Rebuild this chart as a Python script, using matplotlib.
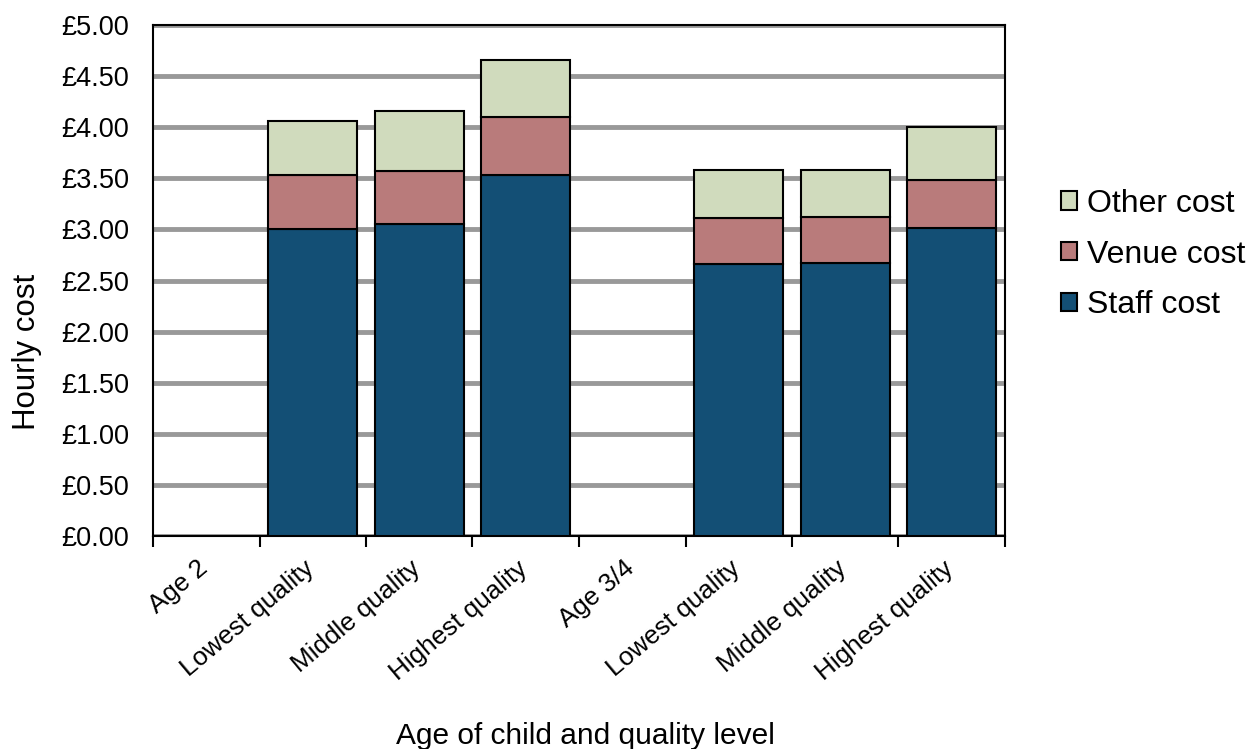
import numpy as np
import matplotlib.pyplot as plt
from matplotlib.ticker import FixedLocator, FuncFormatter
from matplotlib.transforms import ScaledTranslation

plt.rcParams['font.family'] = ['Liberation Sans', 'DejaVu Sans']

categories = ["Age 2", "Lowest quality", "Middle quality", "Highest quality",
              "Age 3/4", "Lowest quality", "Middle quality", "Highest quality"]
# Hourly cost components (GBP); header rows for each age group have no bar
staff_cost = [0, 3.00, 3.05, 3.53, 0, 2.66, 2.67, 3.01]
venue_cost = [0, 0.53, 0.52, 0.57, 0, 0.45, 0.45, 0.47]
other_cost = [0, 0.53, 0.59, 0.56, 0, 0.47, 0.46, 0.52]

staff_col = "#134f75"
venue_col = "#b97b7b"
other_col = "#d0dbbd"

fig = plt.figure(figsize=(12.5, 7.49), dpi=100)
ax = fig.add_axes([0.1224, 0.2844, 0.6816, 0.6822])

x = np.arange(len(categories))
staff = np.array(staff_cost)
venue = np.array(venue_cost)
other = np.array(other_cost)
has_bar = staff > 0

w = 0.84
kw = dict(width=w, edgecolor="black", linewidth=1.5, zorder=3)
b1 = ax.bar(x[has_bar], staff[has_bar], color=staff_col, label="Staff cost", **kw)
b2 = ax.bar(x[has_bar], venue[has_bar], bottom=staff[has_bar], color=venue_col,
            label="Venue cost", **kw)
b3 = ax.bar(x[has_bar], other[has_bar], bottom=(staff + venue)[has_bar],
            color=other_col, label="Other cost", **kw)

ax.set_xlim(-0.5, len(categories) - 0.5)
ax.set_ylim(0, 5)
ax.set_yticks(np.arange(0, 5.01, 0.5))
ax.yaxis.set_major_formatter(FuncFormatter(lambda v, p: f"£{v:.2f}"))
ax.yaxis.grid(True, color="#999999", linewidth=3.5, zorder=0)
ax.set_axisbelow(True)
ax.tick_params(axis="y", length=0, labelsize=19.5, pad=17)

# ticks sit on the category boundaries, labels on the centres
ax.xaxis.set_major_locator(FixedLocator(np.arange(-0.5, len(categories))))
ax.xaxis.set_major_formatter(FuncFormatter(lambda v, p: ""))
ax.xaxis.set_minor_locator(FixedLocator(x))
ax.set_xticklabels(categories, minor=True, rotation=40, ha="right",
                   rotation_mode="anchor", fontsize=18.8)
ax.tick_params(axis="x", which="major", length=8, width=1.5, direction="out")
ax.tick_params(axis="x", which="minor", length=0, pad=14.5)
shift = ScaledTranslation(-6.5 / 72, 0, fig.dpi_scale_trans)
for lbl in ax.get_xticklabels(minor=True):
    lbl.set_transform(lbl.get_transform() + shift)

for s in ax.spines.values():
    s.set_linewidth(1.5)
    s.set_color("black")

ax.set_ylabel("Hourly cost", fontsize=22.5)
ax.yaxis.set_label_coords(-0.130, 0.36)
fig.text(0.468, 0.0067, "Age of child and quality level", fontsize=21.5,
         ha="center", va="baseline")

handles = [b3, b2, b1]
leg = fig.legend(handles, [h.get_label() for h in handles],
                 loc="center left", bbox_to_anchor=(0.849, 0.660),
                 frameon=False, fontsize=23, handlelength=0.5,
                 handleheight=0.5, handletextpad=0.3, labelspacing=0.65,
                 borderaxespad=0, borderpad=0)

fig.savefig("out.png", dpi=100)
